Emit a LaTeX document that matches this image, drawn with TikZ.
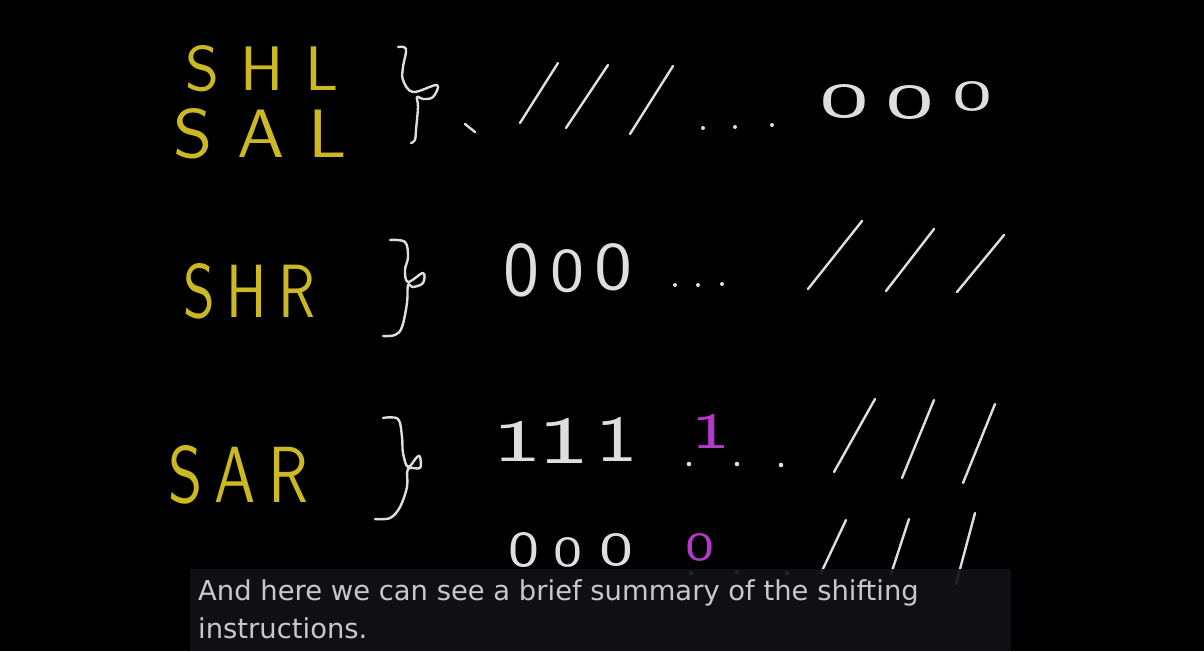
\documentclass[tikz,border=0pt]{standalone}
\usepackage{fontspec}
\usepackage{graphicx}
\newfontfamily\capfont{DejaVu Sans}
\definecolor{chalkyellow}{RGB}{204,184,34}
\definecolor{chalkwhite}{RGB}{222,222,222}
\definecolor{chalkpink}{RGB}{178,58,198}
\definecolor{capbg}{RGB}{18,17,22}
\definecolor{captext}{RGB}{200,200,204}
% text squeezed into a box of w x h (pt)
\newcommand{\handtext}[3]{\resizebox{#1pt}{#2pt}{\sffamily #3}}
\tikzset{
  word/.style={inner sep=0pt, anchor=north west, text=chalkyellow},
  bit/.style={inner sep=0pt, anchor=center, text=chalkwhite},
  pinkbit/.style={bit, text=chalkpink},
  stroke/.style={draw=chalkwhite, line width=2.4pt, line cap=round, line join=round},
  chalkdot/.style={fill=chalkwhite},
  caption/.style={inner sep=0pt, anchor=base west, text=captext, font=\capfont\fontsize{27.4}{38}\selectfont}
}
\begin{document}
\begin{tikzpicture}[x=1pt,y=-1pt]

\fill[black] (0,0) rectangle (1204,651);
\useasboundingbox (0,0) rectangle (1204,651);

% mnemonics
\node[word] (shl) at (185,45) {\handtext{153}{45}{S\hspace{0.35em}H\hspace{0.35em}L}};
\node[word] (sal) at (173,108) {\handtext{174}{49}{S\hspace{0.35em}A\hspace{0.35em}L}};
\node[word] (shr) at (183,263) {\handtext{132}{54}{S\hspace{0.2em}H\hspace{0.2em}R}};
\node[word] (sar) at (168,445) {\handtext{140}{57}{S\hspace{0.2em}A\hspace{0.2em}R}};

% braces
\draw[stroke] plot[smooth, tension=0.6] coordinates {(398,47) (406,49) (403,67) (403,80) (413,92) (437,85) (433,97) (423,99) (417,97) (418,107) (416,130) (415,140) (411,143)};
\draw[stroke] plot[smooth, tension=0.6] coordinates {(390,240) (405,242) (408,257) (405,270) (408,282) (423,273) (423,283) (413,287) (408,285) (407,303) (402,327) (395,335) (383,336)};
\draw[stroke] plot[smooth, tension=0.6] coordinates {(383,418) (398,419) (402,437) (403,453) (408,467) (417,457) (420,457) (420,468) (408,469) (407,487) (400,507) (390,518) (375,519)};
\draw[stroke] (465,124) -- (475,132);

% SHL / SAL row
\draw[stroke] (520,123) -- (558,63);
\draw[stroke] (566,128) -- (608,65);
\draw[stroke] (630,134) -- (673,66);
\fill[chalkdot] (703,128) circle (2) (735,127) circle (2) (772,125) circle (2);
\node[bit] (z11) at (844,102) {\handtext{50}{33}{0}};
\node[bit] (z12) at (910,103) {\handtext{49}{33}{0}};
\node[bit] (z13) at (972,96) {\handtext{40}{29}{0}};

% SHR row
\node[bit] (z21) at (521,270) {\handtext{36}{52}{0}};
\node[bit] (z22) at (567,271) {\handtext{34}{42}{0}};
\node[bit] (z23) at (613,267) {\handtext{38}{46}{0}};
\fill[chalkdot] (675,285) circle (2) (698,285) circle (2) (722,284) circle (2);
\draw[stroke] (808,289) -- (862,221);
\draw[stroke] (886,291) -- (934,229);
\draw[stroke] (957,292) -- (1004,235);

% SAR row, sign 1
\node[bit] (o31) at (517,441) {\handtext{50}{40}{1}};
\node[bit] (o32) at (564,441) {\handtext{53}{45}{1}};
\node[bit] (o33) at (617,439) {\handtext{43}{44}{1}};
\node[pinkbit] (o34) at (711,431) {\handtext{39}{34}{1}};
\fill[chalkdot] (689,464) circle (2.3) (737,464) circle (2.3) (781,465) circle (2.3);
\draw[stroke] (834,472) -- (875,399);
\draw[stroke] (902,478) -- (934,400);
\draw[stroke] (963,483) -- (995,404);

% SAR row, sign 0
\node[bit] (z41) at (524,550) {\handtext{31}{34}{0}};
\node[bit] (z42) at (568,552) {\handtext{29}{29}{0}};
\node[bit] (z43) at (616,550) {\handtext{34}{32}{0}};
\node[pinkbit] (z44) at (700,547) {\handtext{29}{27}{0}};
\fill[chalkdot] (691,573) circle (2.3) (737,572) circle (2.3) (787,573) circle (2.3);
\draw[stroke] (821,573) -- (846,520);
\draw[stroke] (891,574) -- (909,519);
\draw[stroke] (956,584) -- (975,513);

% subtitle
\fill[capbg, opacity=0.92] (190,569) rectangle (1011,651);
\node[caption] (cap1) at (198,600) {And here we can see a brief summary of the shifting};
\node[caption] (cap2) at (198,638) {instructions.};

\end{tikzpicture}
\end{document}
